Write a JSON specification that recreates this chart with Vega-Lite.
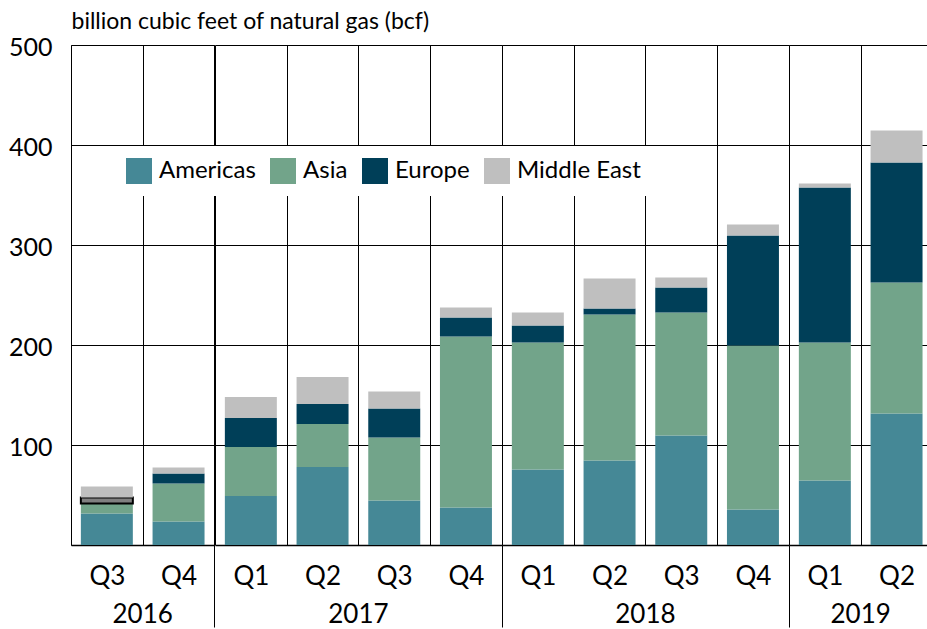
{
  "$schema": "https://vega.github.io/schema/vega-lite/v6.json",
  "padding": {"left": 8, "top": 10, "right": 0, "bottom": 0},
  "background": "white",
  "config": {
    "font": "Lato",
    "view": {"stroke": null},
    "axis": {"labelColor": "#000", "titleColor": "#000", "labelFont": "Lato", "titleFont": "Lato"}
  },
  "data": {
    "values": [
      {"year": 2016, "quarter": "Q3", "region": "Americas", "value": 31.5},
      {"year": 2016, "quarter": "Q3", "region": "Asia", "value": 10},
      {"year": 2016, "quarter": "Q3", "region": "Europe", "value": 6},
      {"year": 2016, "quarter": "Q3", "region": "Middle East", "value": 11},
      {"year": 2016, "quarter": "Q4", "region": "Americas", "value": 23.5},
      {"year": 2016, "quarter": "Q4", "region": "Asia", "value": 38},
      {"year": 2016, "quarter": "Q4", "region": "Europe", "value": 10},
      {"year": 2016, "quarter": "Q4", "region": "Middle East", "value": 6},
      {"year": 2017, "quarter": "Q1", "region": "Americas", "value": 49},
      {"year": 2017, "quarter": "Q1", "region": "Asia", "value": 49},
      {"year": 2017, "quarter": "Q1", "region": "Europe", "value": 29},
      {"year": 2017, "quarter": "Q1", "region": "Middle East", "value": 21},
      {"year": 2017, "quarter": "Q2", "region": "Americas", "value": 78},
      {"year": 2017, "quarter": "Q2", "region": "Asia", "value": 43},
      {"year": 2017, "quarter": "Q2", "region": "Europe", "value": 20},
      {"year": 2017, "quarter": "Q2", "region": "Middle East", "value": 27},
      {"year": 2017, "quarter": "Q3", "region": "Americas", "value": 44.5},
      {"year": 2017, "quarter": "Q3", "region": "Asia", "value": 63},
      {"year": 2017, "quarter": "Q3", "region": "Europe", "value": 29},
      {"year": 2017, "quarter": "Q3", "region": "Middle East", "value": 17},
      {"year": 2017, "quarter": "Q4", "region": "Americas", "value": 37.5},
      {"year": 2017, "quarter": "Q4", "region": "Asia", "value": 171},
      {"year": 2017, "quarter": "Q4", "region": "Europe", "value": 19},
      {"year": 2017, "quarter": "Q4", "region": "Middle East", "value": 10},
      {"year": 2018, "quarter": "Q1", "region": "Americas", "value": 75.5},
      {"year": 2018, "quarter": "Q1", "region": "Asia", "value": 127},
      {"year": 2018, "quarter": "Q1", "region": "Europe", "value": 17},
      {"year": 2018, "quarter": "Q1", "region": "Middle East", "value": 13},
      {"year": 2018, "quarter": "Q2", "region": "Americas", "value": 84.5},
      {"year": 2018, "quarter": "Q2", "region": "Asia", "value": 146},
      {"year": 2018, "quarter": "Q2", "region": "Europe", "value": 6},
      {"year": 2018, "quarter": "Q2", "region": "Middle East", "value": 30},
      {"year": 2018, "quarter": "Q3", "region": "Americas", "value": 109.5},
      {"year": 2018, "quarter": "Q3", "region": "Asia", "value": 123},
      {"year": 2018, "quarter": "Q3", "region": "Europe", "value": 25},
      {"year": 2018, "quarter": "Q3", "region": "Middle East", "value": 10},
      {"year": 2018, "quarter": "Q4", "region": "Americas", "value": 35.5},
      {"year": 2018, "quarter": "Q4", "region": "Asia", "value": 164},
      {"year": 2018, "quarter": "Q4", "region": "Europe", "value": 110},
      {"year": 2018, "quarter": "Q4", "region": "Middle East", "value": 11},
      {"year": 2019, "quarter": "Q1", "region": "Americas", "value": 64.5},
      {"year": 2019, "quarter": "Q1", "region": "Asia", "value": 138},
      {"year": 2019, "quarter": "Q1", "region": "Europe", "value": 155},
      {"year": 2019, "quarter": "Q1", "region": "Middle East", "value": 4},
      {"year": 2019, "quarter": "Q2", "region": "Americas", "value": 131.5},
      {"year": 2019, "quarter": "Q2", "region": "Asia", "value": 131},
      {"year": 2019, "quarter": "Q2", "region": "Europe", "value": 120},
      {"year": 2019, "quarter": "Q2", "region": "Middle East", "value": 32}
    ]
  },
  "facet": {
    "column": {
      "field": "year",
      "type": "ordinal",
      "title": null,
      "header": {"labelOrient": "bottom", "labelFontSize": 26, "labelFont": "Lato", "labelColor": "#000", "labelPadding": 57}
    }
  },
  "spacing": 0,
  "bounds": "flush",
  "resolve": {"scale": {"x": "independent"}},
  "spec": {
    "width": {"step": 71.7},
    "height": 500,
    "mark": {"type": "bar", "width": {"band": 0.725}, "stroke": "#000"},
    "encoding": {
      "x": {
        "field": "quarter",
        "type": "ordinal",
        "scale": {"paddingInner": 0, "paddingOuter": 0},
        "axis": {
          "title": null,
          "labelAngle": 0,
          "labelFontSize": 26,
          "tickBand": "extent",
          "grid": true,
          "gridColor": "#000",
          "gridWidth": 1,
          "gridOpacity": 1,
          "domain": true,
          "domainColor": "#000",
          "domainWidth": 1.5,
          "ticks": true,
          "tickSize": 82,
          "tickWidth": 1,
          "tickColor": {"condition": {"test": "datum.value === 'Q4'", "value": "#000"}, "value": "transparent"},
          "labelPadding": -64
        }
      },
      "y": {
        "field": "value",
        "type": "quantitative",
        "stack": "zero",
        "scale": {"domain": [0, 500], "nice": false},
        "axis": {
          "values": [100, 200, 300, 400, 500],
          "title": "billion cubic feet of natural gas (bcf)",
          "titleAngle": 0,
          "titleAlign": "left",
          "titleBaseline": "middle",
          "titleX": 0,
          "titleY": -24,
          "titleFontSize": 23,
          "titleFontWeight": "normal",
          "grid": true,
          "gridColor": "#000",
          "gridWidth": 1,
          "gridOpacity": 1,
          "ticks": false,
          "domain": true,
          "domainColor": "#000",
          "domainWidth": 1,
          "labelFontSize": 25,
          "labelPadding": 19,
          "labelOffset": 2
        }
      },
      "color": {
        "condition": {"test": "datum.year == 2016 && datum.quarter == 'Q3' && datum.region == 'Europe'", "value": "#808080"},
        "field": "region",
        "type": "nominal",
        "scale": {
          "domain": ["Americas", "Asia", "Europe", "Middle East"],
          "range": ["#458896", "#72a48a", "#003f58", "#bfbfbf"]
        },
        "legend": {
          "title": null,
          "orient": "none",
          "direction": "horizontal",
          "legendX": 43,
          "legendY": 101,
          "symbolType": "square",
          "symbolSize": 676,
          "symbolStrokeWidth": 0,
          "symbolOpacity": 1,
          "labelFontSize": 24,
          "labelFont": "Lato",
          "labelColor": "#000",
          "labelOffset": 7,
          "columnPadding": 14,
          "fillColor": "white",
          "padding": 12
        }
      },
      "strokeWidth": {
        "condition": {"test": "datum.year == 2016 && datum.quarter == 'Q3' && datum.region == 'Europe'", "value": 2},
        "value": 0
      },
      "order": {"field": "region", "sort": "ascending"}
    }
  }
}
